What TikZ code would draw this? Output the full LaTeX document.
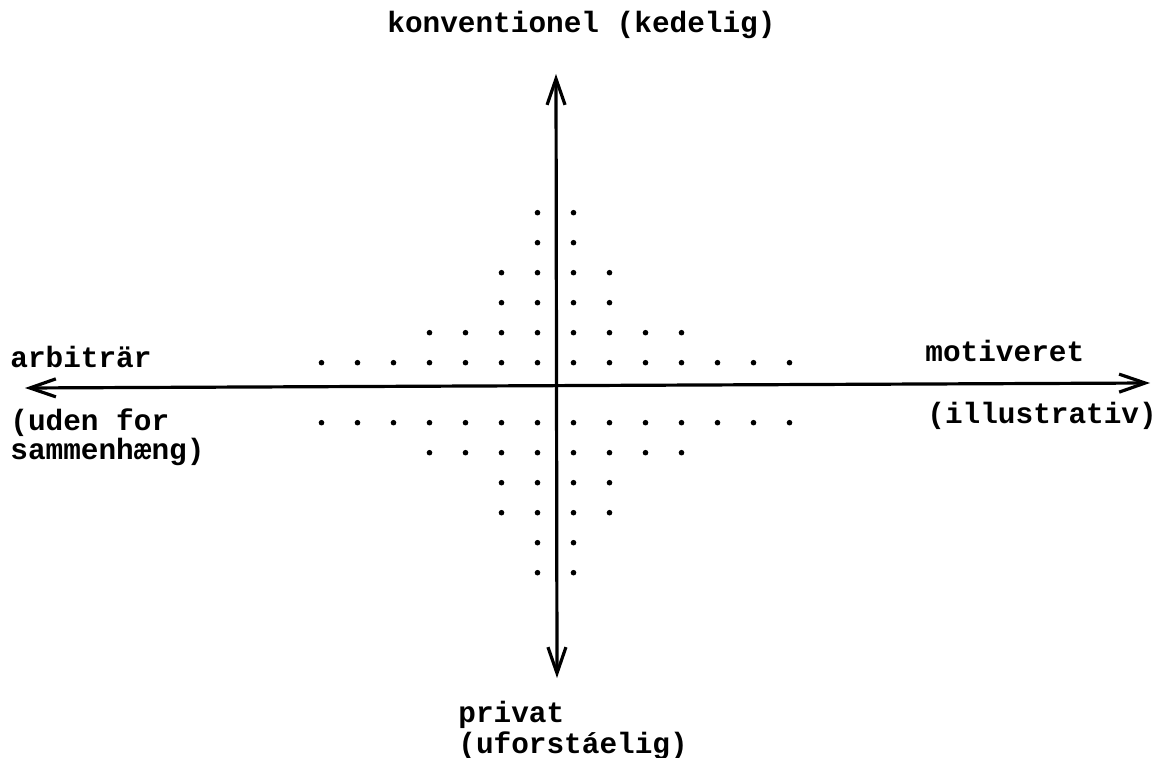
\documentclass[tikz,border=0pt]{standalone}
\usepackage{fontspec}
\setmonofont{Liberation Mono}
\usetikzlibrary{arrows.meta}

\begin{document}
\begin{tikzpicture}[x=0.5pt, y=-0.5pt,
        akse/.style={{Straight Barb[length=13pt, width=9pt]}-{Straight Barb[length=13pt, width=9pt]}, line width=1.6pt},
        etiket/.style={anchor=base west, inner sep=0pt, font=\fontsize{14.7}{18}\selectfont\ttfamily\bfseries},
        prik/.style={fill=black}]
        \useasboundingbox (0,0) rectangle (1155,758);

        % Akser
        \coordinate (venstre) at (25,388);
        \coordinate (hojre) at (1150,383);
        \coordinate (top) at (556,74);
        \coordinate (bund) at (557,678);
        \draw[akse] (venstre) -- (hojre);
        \draw[akse] (bund) -- (top);

        % Prikker
        \foreach \r/\n in {1/7, 2/4, 3/2, 4/2, 5/1, 6/1}
          \foreach \k in {1,...,\n}
            \foreach \s in {-1,1}
              \foreach \t in {-1,1}
                \fill[prik] (555.5+\s*\k*36-\s*18, 392.7+\t*\r*30) circle[radius=1.4pt];

        % Etiketter
        \node[etiket] (konv) at (387,33) {konventionel (kedelig)};
        \node[etiket] (arb) at (10,368) {arbitr\"ar};
        \node[etiket] (uden) at (10,430) {(uden for};
        \node[etiket] (samm) at (10,459) {sammenh\ae ng)};
        \node[etiket] (mot) at (925,362) {motiveret};
        \node[etiket] (ill) at (927,423) {(illustrativ)};
        \node[etiket] (priv) at (458,722) {privat};
        \node[etiket] (ufor) at (458,753) {(uforst\'aelig)};
    \end{tikzpicture}
\end{document}
